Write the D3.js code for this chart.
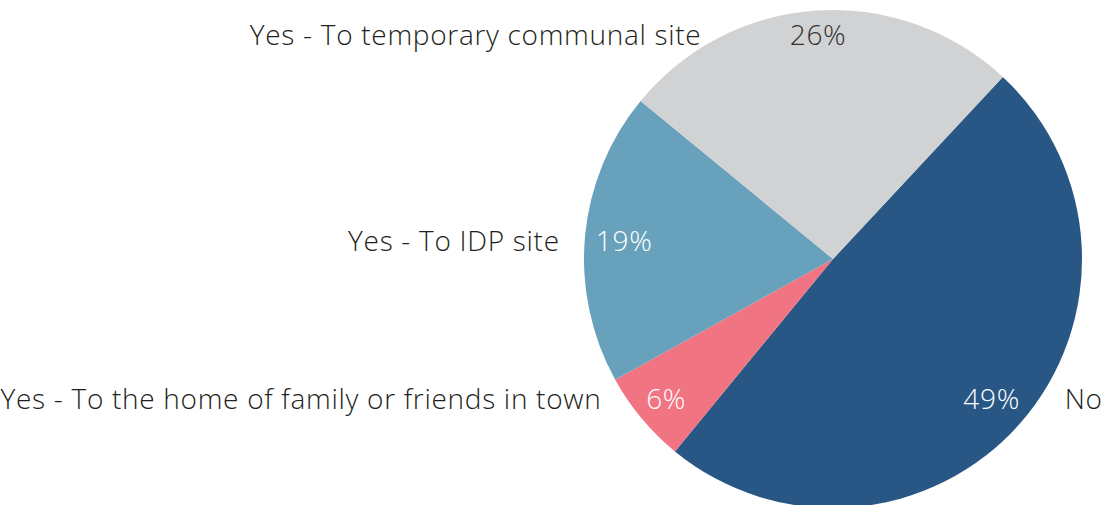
<!DOCTYPE html>
<html>
<head>
<meta charset="utf-8">
<script src="https://cdn.jsdelivr.net/npm/d3@7"></script>
<style>
  body { margin: 0; background: #fff; }
  text { font-family: "Open Sans", Lato, sans-serif; font-weight: 300; letter-spacing: 0.7px; }
</style>
</head>
<body>
<script>
// data
var categories = [
  "No",
  "Yes - To the home of family or friends in town",
  "Yes - To IDP site",
  "Yes - To temporary communal site",
];
var values = [49, 6, 19, 26];
var colors = ["#285785", "#f07482", "#68a1bb", "#d1d2d4"];
var pctColors = ["#ffffff", "#ffffff", "#ffffff", "#333333"];

var width = 1115,
  height = 505;
var cx = 833,
  cy = 259,
  radius = 249;

var svg = d3
  .select("body")
  .append("svg")
  .attr("width", width)
  .attr("height", height);

var g = svg.append("g").attr("transform", "translate(" + cx + "," + cy + ")");

var startAngle = (43 * Math.PI) / 180;

var pie = d3
  .pie()
  .sort(null)
  .startAngle(startAngle)
  .endAngle(startAngle + 2 * Math.PI)
  .value(function (d) {
    return d;
  });

var arcs = pie(values);

var arc = d3.arc().innerRadius(0).outerRadius(radius);

g.selectAll("path")
  .data(arcs)
  .enter()
  .append("path")
  .attr("d", arc)
  .attr("fill", function (d, i) {
    return colors[i];
  });

var fontSize = 28;

// percentage labels: "inside end", box pushed against the rim
var pct = g
  .selectAll("text.pct")
  .data(arcs)
  .enter()
  .append("text")
  .attr("class", "pct")
  .attr("text-anchor", "middle")
  .attr("dominant-baseline", "central")
  .style("font-size", fontSize + "px")
  .attr("fill", function (d, i) {
    return pctColors[i];
  })
  .text(function (d) {
    return d.data + "%";
  });

var labelPos = [];
pct.each(function (d, i) {
  var bb = this.getBBox();
  var hw = bb.width / 2,
    hh = 10;
  var mid = (d.startAngle + d.endAngle) / 2;
  var dx = Math.sin(mid),
    dy = -Math.cos(mid);
  var p = Math.abs(dx) * hw + Math.abs(dy) * hh;
  var R = radius - 10;
  var dist = -p + Math.sqrt(p * p - (hw * hw + hh * hh) + R * R);
  var x = dist * dx,
    y = dist * dy;
  labelPos.push({ x: x, y: y, right: dx > 0 });
  d3.select(this).attr("x", x).attr("y", y);
});

// category labels outside, at the same height
g.selectAll("text.cat")
  .data(arcs)
  .enter()
  .append("text")
  .attr("class", "cat")
  .attr("dominant-baseline", "central")
  .style("font-size", fontSize + "px")
  .attr("fill", "#231f20")
  .attr("text-anchor", function (d, i) {
    return labelPos[i].right ? "start" : "end";
  })
  .attr("x", function (d, i) {
    var y = labelPos[i].y;
    var edge = Math.sqrt(radius * radius - y * y) + 25;
    return labelPos[i].right ? edge : -edge;
  })
  .attr("y", function (d, i) {
    return labelPos[i].y;
  })
  .text(function (d, i) {
    return categories[i];
  });
</script>
</body>
</html>
